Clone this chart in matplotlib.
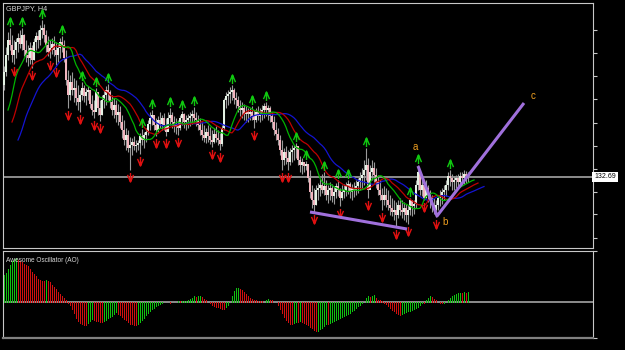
import numpy as np
import matplotlib.pyplot as plt
from matplotlib.path import Path

# GBPJPY H4 bars (open of each bar = previous close)
first_open = 133.61
highs = [
    133.80, 133.99, 134.14, 134.18, 134.11, 134.06, 134.08, 134.13, 134.16, 134.18,
    134.12, 134.06, 134.01, 134.04, 134.01, 134.08, 134.14, 134.16, 134.21, 134.26,
    134.22, 134.16, 134.10, 134.06, 134.08, 134.10, 134.04, 134.02, 134.08, 134.10,
    134.06, 133.96, 133.76, 133.71, 133.74, 133.68, 133.66, 133.61, 133.56, 133.64,
    133.61, 133.58, 133.60, 133.56, 133.51, 133.46, 133.58, 133.54, 133.46, 133.51,
    133.56, 133.60, 133.62, 133.56, 133.51, 133.48, 133.46, 133.42, 133.40, 133.31,
    133.26, 133.18, 133.16, 133.09, 133.08, 133.10, 133.06, 133.06, 133.13, 133.17,
    133.14, 133.18, 133.26, 133.34, 133.36, 133.31, 133.28, 133.30, 133.34, 133.31,
    133.33, 133.28, 133.34, 133.38, 133.34, 133.30, 133.28, 133.26, 133.31, 133.35,
    133.33, 133.31, 133.32, 133.34, 133.36, 133.39, 133.34, 133.31, 133.28, 133.24,
    133.21, 133.18, 133.21, 133.19, 133.16, 133.18, 133.20, 133.16, 133.13, 133.21,
    133.48, 133.54, 133.56, 133.59, 133.61, 133.58, 133.54, 133.50, 133.46, 133.44,
    133.42, 133.40, 133.38, 133.38, 133.40, 133.36, 133.38, 133.40, 133.38, 133.41,
    133.43, 133.44, 133.41, 133.40, 133.34, 133.30, 133.24, 133.18, 133.11, 133.06,
    132.98, 133.00, 132.96, 132.98, 133.01, 133.01, 133.03, 133.00, 132.90, 132.88,
    132.83, 132.85, 132.81, 132.76, 132.61, 132.58, 132.61, 132.63, 132.68, 132.72,
    132.74, 132.66, 132.61, 132.64, 132.62, 132.60, 132.63, 132.66, 132.58, 132.61,
    132.62, 132.64, 132.66, 132.64, 132.62, 132.64, 132.66, 132.68, 132.74, 132.78,
    132.86, 132.98, 132.88, 132.81, 132.86, 132.84, 132.78, 132.71, 132.66, 132.58,
    132.60, 132.58, 132.56, 132.51, 132.48, 132.46, 132.44, 132.46, 132.48, 132.46,
    132.44, 132.42, 132.41, 132.48, 132.44, 132.46, 132.66, 132.81, 132.74, 132.66,
    132.64, 132.66, 132.61, 132.56, 132.51, 132.48, 132.46, 132.51, 132.56, 132.58,
    132.61, 132.66, 132.74, 132.76, 132.72, 132.70, 132.71, 132.72, 132.74, 132.74,
    132.76, 132.75, 132.74,
]
lows = [
    133.56, 133.70, 133.86, 133.96, 133.84, 133.82, 133.88, 133.94, 133.98, 133.96,
    133.90, 133.84, 133.80, 133.82, 133.78, 133.86, 133.96, 133.98, 134.01, 134.08,
    134.04, 133.94, 133.90, 133.88, 133.92, 133.90, 133.81, 133.84, 133.88, 133.94,
    133.84, 133.61, 133.38, 133.46, 133.51, 133.44, 133.41, 133.36, 133.34, 133.46,
    133.44, 133.41, 133.46, 133.38, 133.31, 133.28, 133.36, 133.31, 133.25, 133.31,
    133.38, 133.41, 133.46, 133.38, 133.31, 133.28, 133.24, 133.21, 133.18, 133.08,
    133.01, 132.96, 132.94, 132.76, 132.91, 132.96, 132.94, 132.96, 132.92, 133.01,
    132.98, 133.04, 133.11, 133.16, 133.21, 133.16, 133.10, 133.14, 133.18, 133.16,
    133.16, 133.10, 133.16, 133.21, 133.18, 133.14, 133.12, 133.11, 133.16, 133.21,
    133.18, 133.16, 133.18, 133.20, 133.22, 133.24, 133.20, 133.16, 133.11, 133.06,
    133.04, 133.03, 133.04, 133.02, 132.99, 133.03, 133.04, 133.01, 132.96, 133.00,
    133.16, 133.38, 133.41, 133.43, 133.46, 133.42, 133.38, 133.34, 133.30, 133.28,
    133.26, 133.24, 133.24, 133.26, 133.26, 133.18, 133.24, 133.26, 133.24, 133.26,
    133.28, 133.30, 133.26, 133.24, 133.18, 133.11, 133.06, 133.01, 132.91, 132.76,
    132.81, 132.82, 132.76, 132.81, 132.84, 132.86, 132.88, 132.81, 132.74, 132.72,
    132.74, 132.76, 132.64, 132.48, 132.38, 132.34, 132.41, 132.46, 132.50, 132.53,
    132.51, 132.46, 132.43, 132.46, 132.44, 132.42, 132.48, 132.50, 132.40, 132.46,
    132.48, 132.50, 132.52, 132.48, 132.46, 132.49, 132.51, 132.53, 132.56, 132.58,
    132.61, 132.66, 132.48, 132.61, 132.66, 132.64, 132.58, 132.51, 132.46, 132.36,
    132.41, 132.39, 132.36, 132.31, 132.30, 132.26, 132.19, 132.28, 132.31, 132.28,
    132.26, 132.24, 132.22, 132.31, 132.30, 132.32, 132.38, 132.56, 132.51, 132.50,
    132.46, 132.48, 132.44, 132.38, 132.34, 132.32, 132.29, 132.36, 132.40, 132.42,
    132.46, 132.50, 132.56, 132.60, 132.56, 132.56, 132.58, 132.58, 132.60, 132.61,
    132.62, 132.63, 132.64,
]
closes = [
    133.74, 133.91, 134.06, 134.01, 133.91, 133.96, 134.04, 134.08, 134.02, 134.11,
    133.96, 133.91, 133.88, 133.98, 133.86, 134.04, 134.10, 134.06, 134.16, 134.18,
    134.11, 134.01, 133.94, 133.98, 134.02, 133.96, 133.91, 133.98, 134.04, 134.01,
    133.88, 133.66, 133.51, 133.64, 133.56, 133.58, 133.48, 133.44, 133.51, 133.58,
    133.50, 133.54, 133.56, 133.42, 133.36, 133.34, 133.54, 133.38, 133.31, 133.46,
    133.51, 133.56, 133.54, 133.44, 133.36, 133.41, 133.31, 133.34, 133.24, 133.16,
    133.06, 133.11, 132.98, 133.01, 133.04, 133.00, 133.01, 133.03, 133.10, 133.06,
    133.11, 133.14, 133.22, 133.28, 133.31, 133.21, 133.16, 133.26, 133.22, 133.28,
    133.21, 133.14, 133.28, 133.31, 133.24, 133.20, 133.22, 133.18, 133.28, 133.32,
    133.24, 133.26, 133.28, 133.30, 133.32, 133.28, 133.26, 133.21, 133.16, 133.11,
    133.08, 133.14, 133.10, 133.06, 133.04, 133.12, 133.08, 133.06, 133.02, 133.18,
    133.46, 133.50, 133.52, 133.54, 133.56, 133.48, 133.46, 133.40, 133.36, 133.38,
    133.32, 133.34, 133.32, 133.34, 133.30, 133.26, 133.34, 133.30, 133.32, 133.36,
    133.40, 133.36, 133.38, 133.30, 133.24, 133.16, 133.12, 133.06, 132.96, 132.86,
    132.94, 132.88, 132.84, 132.94, 132.96, 132.98, 133.00, 132.86, 132.81, 132.84,
    132.80, 132.82, 132.68, 132.54, 132.46, 132.41, 132.56, 132.58, 132.61, 132.56,
    132.60, 132.51, 132.56, 132.58, 132.50, 132.54, 132.60, 132.56, 132.48, 132.54,
    132.56, 132.60, 132.62, 132.54, 132.58, 132.56, 132.60, 132.64, 132.68, 132.71,
    132.76, 132.81, 132.56, 132.74, 132.78, 132.71, 132.64, 132.56, 132.51, 132.46,
    132.51, 132.46, 132.41, 132.38, 132.34, 132.36, 132.31, 132.41, 132.36, 132.34,
    132.38, 132.31, 132.36, 132.46, 132.40, 132.42, 132.61, 132.74, 132.56, 132.61,
    132.48, 132.58, 132.51, 132.46, 132.41, 132.36, 132.41, 132.48, 132.51, 132.54,
    132.56, 132.61, 132.70, 132.68, 132.64, 132.66, 132.68, 132.64, 132.70, 132.68,
    132.72, 132.70, 132.69,
]

# Awesome Oscillator values, one per bar
ao = [
    0.27, 0.29, 0.33, 0.37, 0.41, 0.43, 0.44, 0.42, 0.41, 0.40,
    0.38, 0.37, 0.36, 0.33, 0.30, 0.28, 0.26, 0.23, 0.225, 0.215,
    0.21, 0.22, 0.21, 0.20, 0.17, 0.15, 0.13, 0.10, 0.08, 0.06,
    0.04, 0.02, -0.005, -0.03, -0.07, -0.11, -0.16, -0.19, -0.21, -0.22,
    -0.225, -0.23, -0.21, -0.19, -0.17, -0.18, -0.185, -0.19, -0.195, -0.20,
    -0.19, -0.175, -0.16, -0.15, -0.14, -0.12, -0.10, -0.115, -0.13, -0.15,
    -0.17, -0.18, -0.20, -0.215, -0.22, -0.225, -0.23, -0.22, -0.20, -0.18,
    -0.16, -0.13, -0.11, -0.09, -0.07, -0.06, -0.04, -0.03, -0.015, -0.005,
    0.002, 0.003, -0.002, -0.005, -0.002, 0.002, 0.005, 0.01, 0.008, 0.009,
    0.01, 0.015, 0.025, 0.035, 0.04, 0.06, 0.055, 0.062, 0.065, 0.05,
    0.035, 0.02, 0.005, -0.01, -0.03, -0.035, -0.045, -0.05, -0.06, -0.065,
    -0.07, -0.05, -0.03, 0.005, 0.06, 0.11, 0.14, 0.145, 0.13, 0.12,
    0.10, 0.08, 0.06, 0.04, 0.033, 0.023, 0.017, 0.01, 0.008, 0.006,
    0.004, 0.02, 0.027, 0.023, 0.022, 0.005, 0.0, -0.03, -0.067, -0.11,
    -0.15, -0.18, -0.20, -0.217, -0.22, -0.21, -0.195, -0.20, -0.19, -0.20,
    -0.205, -0.215, -0.23, -0.25, -0.26, -0.275, -0.29, -0.285, -0.27, -0.255,
    -0.235, -0.22, -0.222, -0.205, -0.20, -0.19, -0.18, -0.17, -0.16, -0.15,
    -0.14, -0.13, -0.12, -0.11, -0.09, -0.08, -0.06, -0.04, -0.03, -0.01,
    0.005, 0.04, 0.06, 0.05, 0.065, 0.075, 0.04, 0.025, 0.017, 0.007,
    -0.005, -0.02, -0.04, -0.06, -0.075, -0.09, -0.11, -0.12, -0.125, -0.12,
    -0.11, -0.10, -0.09, -0.085, -0.08, -0.07, -0.06, -0.05, -0.03, -0.01,
    -0.012, 0.02, 0.045, 0.06, 0.05, 0.035, 0.02, 0.005, -0.005, -0.01,
    -0.005, 0.0, 0.02, 0.045, 0.06, 0.07, 0.08, 0.09, 0.095, 0.093,
    0.10, 0.095, 0.10,
]

# bars carrying a fractal arrow
up_fractals = [3, 9, 19, 29, 39, 46, 52, 69, 74, 83, 89, 95, 114, 124, 131,
               146, 151, 160, 167, 172, 181, 203, 207, 223]
down_fractals = [5, 14, 23, 26, 32, 38, 45, 48, 63, 68, 76, 81, 87, 104, 108,
                 125, 139, 142, 155, 168, 182, 189, 196, 202, 210, 216]

# Alligator: (period, shift, value before first bar, colour)
lips = (5, 3, 133.36, '#00B400')
teeth = (8, 5, 133.24, '#C00000')
jaw = (13, 8, 133.06, '#1414D2')

# hand drawn wave lines (bar index, price) and labels
trend_x = [153, 201.5]
trend_y = [132.34, 132.17]
wave_x = [207, 216.5, 260]
wave_y = [132.80, 132.30, 133.43]
wave_labels = ['a', 'b', 'c']
wave_label_x = [205.5, 220.5, 264.5]
wave_label_y = [132.99, 132.24, 133.50]

last_price = 132.69
price_ticks = [132.08, 132.32, 132.54, 132.77, 133.00, 133.23, 133.47, 133.70, 133.93, 134.16]

highs = np.array(highs)
lows = np.array(lows)
closes = np.array(closes)
opens = np.concatenate([[first_open], closes[:-1]])
idx = np.arange(len(closes))
median = (highs + lows) / 2


def smma(values, period, seed):
    out = []
    prev = seed
    for v in values:
        prev = (prev * (period - 1) + v) / period
        out.append(prev)
    return np.array(out)


fig = plt.figure(figsize=(6.25, 3.5), dpi=100, facecolor='black')
ax = fig.add_axes([3 / 625, 1 - 248 / 350, 590 / 625, 245 / 350], facecolor='black')
ax2 = fig.add_axes([3 / 625, 1 - 338 / 350, 590 / 625, 87 / 350], facecolor='black')

# candles
ax.vlines(idx, lows, highs, color='#9A9A9A', lw=0.8, zorder=2)
body_low = np.minimum(opens, closes)
body_h = np.maximum(np.abs(closes - opens), 0.01)
body_col = np.where(closes >= opens, '#E4F2E4', '#F2B4BE')
ax.bar(idx, body_h, bottom=body_low, width=0.7, color=body_col, lw=0, zorder=3)

# alligator lines
for period, shift, seed, col in (jaw, teeth, lips):
    line = np.concatenate([[seed], smma(median, period, seed)])
    ax.plot(np.arange(len(line)) + shift - 1, line, color=col, lw=0.9, zorder=4)

# fractal arrows
up_mark = Path([(-0.4, -0.35), (0, 0.6), (0.4, -0.35), (0, 0.6), (0, -0.6)],
               [Path.MOVETO, Path.LINETO, Path.LINETO, Path.MOVETO, Path.LINETO])
down_mark = Path([(-0.4, 0.35), (0, -0.6), (0.4, 0.35), (0, -0.6), (0, 0.6)],
                 [Path.MOVETO, Path.LINETO, Path.LINETO, Path.MOVETO, Path.LINETO])
ax.plot(up_fractals, highs[up_fractals] + 0.06, ls='none', marker=up_mark,
        ms=6.5, mew=1.0, mfc='none', mec='#10C810', zorder=5)
ax.plot(down_fractals, lows[down_fractals] - 0.07, ls='none', marker=down_mark,
        ms=6.5, mew=1.0, mfc='none', mec='#E01010', zorder=5)

# last price line and label
ax.axhline(last_price, color='#8C8C8C', lw=1.4, zorder=1)
ax.text(1.002, last_price, f'{last_price:.2f}', transform=ax.get_yaxis_transform(),
        ha='left', va='center', fontsize=5, color='black', family='Liberation Sans',
        bbox=dict(facecolor='white', edgecolor='none', pad=1.3))

# wave drawing
ax.plot(trend_x, trend_y, color='#A070DC', lw=2.2, solid_capstyle='butt', zorder=6)
ax.plot(wave_x, wave_y, color='#A070DC', lw=2.2, solid_capstyle='butt', zorder=6)
for lab, lx, ly in zip(wave_labels, wave_label_x, wave_label_y):
    ax.text(lx, ly, lab, color='#F0A020', fontsize=7, family='Liberation Sans',
            ha='center', va='center', zorder=7)

ax.text(0.005, 0.99, 'GBPJPY, H4', transform=ax.transAxes, ha='left', va='top',
        fontsize=5.2, color='#D8D8D8', family='Liberation Sans')

ax.set_xlim(-0.5, 294.5)
ax.set_ylim(131.98, 134.43)
ax.set_xticks([])
ax.set_yticks(price_ticks)
ax.tick_params(axis='y', left=False, right=True, labelleft=False, labelright=False,
               length=3, width=0.8, color='#C8C8C8')
for s in ax.spines.values():
    s.set_color('#C8C8C8')
    s.set_linewidth(0.8)

# Awesome Oscillator panel, one thin bar per candle
ao = np.array(ao)
ao_col = ['#10C010'] + ['#10C010' if ao[i] > ao[i - 1] else '#D01010' for i in range(1, len(ao))]
ax2.vlines(idx, 0, ao, colors=ao_col, lw=0.5, antialiased=False, zorder=3)
ax2.axhline(0, color='#8C8C8C', lw=1.4, zorder=2)
ax2.text(0.005, 0.93, 'Awesome Oscillator (AO)', transform=ax2.transAxes, ha='left',
         va='top', fontsize=4.7, color='#D8D8D8', family='Liberation Sans')
ax2.set_xlim(-0.5, 294.5)
ax2.set_ylim(-0.36, 0.51)
ax2.set_xticks([])
ax2.set_yticks([-0.36, 0.51])
ax2.tick_params(axis='y', left=False, right=True, labelleft=False, labelright=False,
                length=3, width=0.8, color='#C8C8C8')
for name, s in ax2.spines.items():
    s.set_color('#C8C8C8')
    s.set_linewidth(0.8)
ax2.spines['bottom'].set_color('#808080')
ax2.spines['bottom'].set_linewidth(1.6)

fig.savefig('out.png', dpi=100, facecolor='black')
